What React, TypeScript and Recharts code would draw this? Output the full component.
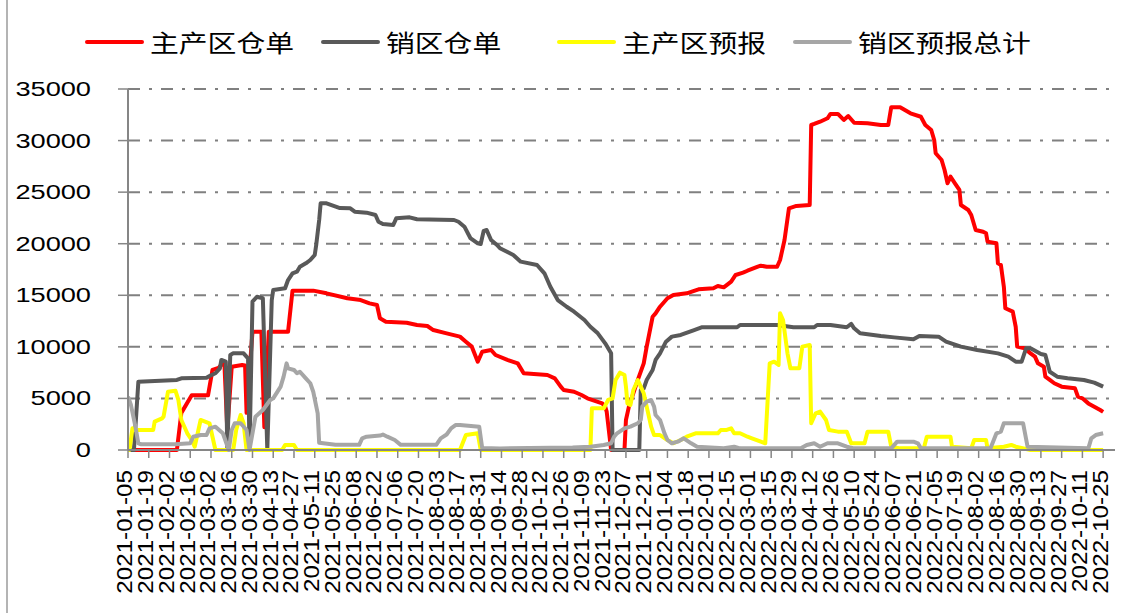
import { LineChart, Line, XAxis, YAxis, CartesianGrid } from 'recharts'

// 2021-01-05 = day 0
const START_DATE = '2021-01-05'

const xTickLabels = [
  '2021-01-05', '2021-01-19', '2021-02-02', '2021-02-16', '2021-03-02', '2021-03-16', '2021-03-30', '2021-04-13',
  '2021-04-27', '2021-05-11', '2021-05-25', '2021-06-08', '2021-06-22', '2021-07-06', '2021-07-20', '2021-08-03',
  '2021-08-17', '2021-08-31', '2021-09-14', '2021-09-28', '2021-10-12', '2021-10-26', '2021-11-09', '2021-11-23',
  '2021-12-07', '2021-12-21', '2022-01-04', '2022-01-18', '2022-02-01', '2022-02-15', '2022-03-01', '2022-03-15',
  '2022-03-29', '2022-04-12', '2022-04-26', '2022-05-10', '2022-05-24', '2022-06-07', '2022-06-21', '2022-07-05',
  '2022-07-19', '2022-08-02', '2022-08-16', '2022-08-30', '2022-09-13', '2022-09-27', '2022-10-11', '2022-10-25',
]
const yTicks = [0, 5000, 10000, 15000, 20000, 25000, 30000, 35000]

// [days since START_DATE, value]
const mainWarehouse: [number, number][] = [
  [0, 0], [33, 0], [36, 3600], [43, 5300], [54, 5300], [57, 7760], [61, 7950], [64, 8430], [65, 8560], [67, 1940],
  [70, 8080], [77, 8240], [79, 8200], [80, 3600], [84, 11470], [90, 11470], [92, 2200], [95, 11470], [108, 11470],
  [111, 15450], [125, 15450], [134, 15190], [148, 14710], [157, 14540], [163, 14220], [168, 14060], [170, 12770],
  [174, 12440], [188, 12340], [195, 12120], [202, 12020], [206, 11630], [215, 11310], [224, 10990], [228, 10500],
  [232, 10020], [236, 8560], [239, 9530], [245, 9700], [248, 9210], [256, 8730], [263, 8400], [267, 7440],
  [283, 7270], [288, 6950], [292, 6140], [294, 5820], [301, 5650], [306, 5330], [310, 5010], [320, 4520],
  [322, 4200], [323, 3720], [326, 0], [335, 0], [336, 2910], [338, 4200], [344, 6790], [348, 8400], [350, 10020],
  [354, 12920], [356, 13250], [359, 13890], [364, 14710], [368, 15030], [377, 15190], [385, 15580], [395, 15680],
  [398, 15900], [402, 15770], [407, 16320], [410, 16970], [415, 17190], [418, 17380], [425, 17770], [427, 17870],
  [431, 17770], [438, 17770], [440, 18420], [443, 20360], [446, 23430], [451, 23660], [460, 23750], [461, 31510],
  [463, 31610], [467, 31830], [472, 32160], [474, 32580], [479, 32580], [483, 32000], [486, 32380], [490, 31730],
  [499, 31670], [508, 31510], [513, 31510], [515, 33230], [521, 33230], [528, 32640], [535, 32310], [538, 31510],
  [542, 31020], [544, 30050], [545, 28770], [549, 28120], [551, 27150], [553, 25860], [555, 26500], [558, 25860],
  [561, 25210], [562, 23750], [567, 23270], [569, 22780], [572, 21330], [577, 21160], [579, 21010], [580, 20200],
  [586, 20040], [587, 18100], [589, 17940], [591, 15830], [592, 13740], [597, 13410], [599, 11950], [600, 10020],
  [605, 9860], [609, 9370], [612, 9050], [614, 8400], [618, 8080], [619, 7110], [622, 6790], [625, 6470],
  [630, 6140], [639, 5980], [641, 5170], [644, 5010], [648, 4520], [652, 4200], [656, 3880], [658, 3700],
]

const salesWarehouse: [number, number][] = [
  [0, 0], [4, 0], [7, 6620], [33, 6790], [36, 6950], [53, 7010], [55, 7170], [59, 7440], [62, 7920], [63, 8730],
  [66, 8560], [67, 0], [69, 9210], [71, 9370], [78, 9370], [81, 8890], [82, 0], [84, 14380], [87, 14860],
  [91, 14710], [94, 0], [97, 14540], [98, 15510], [106, 15680], [108, 16480], [111, 17130], [114, 17290],
  [116, 17770], [120, 18100], [123, 18420], [126, 18910], [127, 19880], [129, 22300], [130, 23920], [134, 23920],
  [143, 23460], [150, 23430], [153, 23110], [161, 23010], [167, 22780], [169, 22130], [172, 21910], [179, 21810],
  [181, 22460], [190, 22560], [195, 22370], [220, 22300], [223, 22130], [227, 21650], [231, 20550], [236, 20040],
  [238, 19970], [240, 21250], [242, 21330], [245, 20360], [249, 19880], [251, 19560], [260, 18910], [265, 18260],
  [276, 17940], [281, 17130], [283, 16480], [285, 15830], [290, 14540], [296, 13890], [301, 13410], [308, 12600],
  [312, 11950], [317, 11310], [322, 10340], [326, 9370], [327, 0], [345, 0], [346, 5820], [348, 5980], [350, 6790],
  [354, 7760], [356, 8730], [359, 9370], [363, 10500], [367, 10990], [373, 11150], [382, 11630], [387, 11900],
  [411, 11900], [413, 12120], [438, 12120], [449, 11900], [463, 11900], [465, 12120], [474, 12120], [485, 11900],
  [488, 12220], [490, 11800], [494, 11310], [508, 11050], [517, 10920], [530, 10730], [534, 11050], [547, 10990],
  [552, 10500], [562, 10020], [573, 9700], [587, 9370], [594, 9050], [599, 8560], [603, 8560], [606, 9860],
  [609, 9860], [616, 9310], [619, 9210], [622, 7590], [627, 7110], [634, 6950], [645, 6790], [652, 6530], [658, 6140],
]

const mainForecast: [number, number][] = [
  [0, 0], [1, 0], [3, 2100], [5, 1940], [17, 1940], [18, 2750], [23, 3070], [24, 3230], [27, 5650], [32, 5750],
  [34, 4850], [36, 2910], [40, 1620], [43, 970], [45, 320], [46, 970], [49, 2910], [52, 2750], [55, 2590],
  [57, 1290], [59, 0], [71, 0], [73, 1940], [76, 3390], [78, 2590], [80, 0], [104, 0], [106, 485], [112, 485],
  [114, 0], [224, 0], [228, 1450], [236, 1620], [238, 0], [312, 0], [313, 4040], [321, 4040], [324, 4850],
  [327, 5010], [329, 6790], [332, 7500], [335, 7270], [336, 6140], [337, 4520], [339, 4360], [341, 5820],
  [344, 6790], [346, 6140], [348, 5500], [350, 4200], [353, 2260], [355, 1450], [359, 1450], [364, 970],
  [368, 650], [373, 970], [377, 1290], [383, 1620], [398, 1620], [400, 1940], [404, 1940], [407, 2100],
  [409, 1620], [413, 1620], [418, 1290], [421, 1130], [427, 810], [430, 650], [433, 8400], [436, 8560],
  [439, 8240], [440, 13250], [442, 12600], [445, 9370], [447, 7920], [453, 7920], [455, 10020], [460, 10180],
  [461, 2590], [464, 3560], [467, 3720], [471, 2910], [473, 1940], [479, 1780], [485, 1780], [488, 650],
  [497, 650], [499, 1780], [513, 1780], [515, 320], [521, 160], [537, 160], [539, 1290], [555, 1290], [556, 320],
  [569, 160], [571, 970], [579, 970], [580, 160], [591, 320], [596, 490], [599, 320], [609, 0], [658, 0],
]

const salesForecastTotal: [number, number][] = [
  [0, 5170], [2, 4360], [5, 2260], [7, 650], [9, 550], [32, 550], [42, 650], [44, 1290], [49, 1450], [53, 1450],
  [55, 2100], [59, 2260], [64, 1620], [68, 0], [70, 1940], [72, 2590], [76, 2590], [80, 1940], [82, 0], [86, 3230],
  [91, 3880], [96, 4850], [98, 5010], [103, 6140], [105, 7110], [107, 8400], [108, 7920], [112, 7760], [114, 7440],
  [116, 7590], [120, 6950], [123, 6470], [125, 5650], [128, 3560], [129, 700], [140, 500], [156, 500], [158, 1130],
  [161, 1290], [170, 1400], [172, 1500], [175, 1290], [180, 970], [184, 500], [208, 500], [211, 1130], [215, 1500],
  [218, 2100], [221, 2420], [224, 2420], [237, 2260], [239, 200], [251, 150], [300, 250], [312, 320], [321, 490],
  [326, 650], [328, 1290], [330, 1620], [335, 2100], [339, 2260], [344, 2590], [346, 2910], [347, 4200],
  [350, 4690], [353, 4850], [355, 4200], [356, 3390], [359, 2910], [362, 1620], [364, 970], [367, 650], [371, 810],
  [375, 1130], [380, 650], [384, 320], [402, 160], [409, 320], [413, 160], [454, 160], [458, 490], [463, 650],
  [467, 320], [472, 650], [479, 650], [485, 320], [490, 160], [515, 160], [519, 810], [530, 810], [533, 650],
  [535, 160], [582, 160], [586, 1620], [589, 1780], [591, 2590], [604, 2590], [607, 320], [648, 160], [650, 1130],
  [653, 1450], [658, 1620],
]

const series = [
  { name: '主产区仓单', color: '#FF0000', points: mainWarehouse },
  { name: '销区仓单', color: '#595959', points: salesWarehouse },
  { name: '主产区预报', color: '#FFFF00', points: mainForecast },
  { name: '销区预报总计', color: '#A6A6A6', points: salesForecastTotal },
]

const dayOf = (d: string) => Math.round((Date.parse(d) - Date.parse(START_DATE)) / 86400000)
const xTicks = xTickLabels.map(dayOf)
const labelByDay = new Map(xTickLabels.map((d) => [dayOf(d), d]))

const YTick = ({ x, y, payload }: any) => (
  <text
    transform={`translate(${x},${y}) scale(1.36,1)`}
    textAnchor="end"
    dy="0.35em"
    fontSize={20}
    fontFamily="'Liberation Sans', Arial, sans-serif"
    fill="#000"
  >
    {payload.value}
  </text>
)

const XTick = ({ x, y, payload }: any) => (
  <text
    transform={`translate(${x},${y}) rotate(-90) scale(1.1,1)`}
    textAnchor="end"
    dy="0.2em"
    fontSize={22}
    fontFamily="'Liberation Sans', Arial, sans-serif"
    fill="#000"
  >
    {labelByDay.get(payload.value)}
  </text>
)

function ChartLegend() {
  return (
    <div style={{ position: 'absolute', top: 27, left: 85, display: 'flex', alignItems: 'center', height: 30 }}>
      {series.map((s) => (
        <div key={s.name} style={{ width: 236, display: 'flex', alignItems: 'center' }}>
          <div style={{ width: 59, height: 4, background: s.color, borderRadius: 2 }} />
          <span
            style={{
              marginLeft: 6,
              display: 'inline-block',
              transform: 'scaleX(1.2)',
              transformOrigin: 'left center',
              fontSize: 24,
              lineHeight: '30px',
              whiteSpace: 'nowrap',
              color: '#000',
              fontFamily: "'Noto Sans CJK SC', sans-serif",
            }}
          >
            {s.name}
          </span>
        </div>
      ))}
    </div>
  )
}

export default function App() {
  return (
    <div style={{ position: 'relative', width: 1123, height: 613, background: '#fff', overflow: 'hidden' }}>
      <style>{'body{margin:0}'}</style>
      <div style={{ position: 'absolute', left: 6, top: 0, width: 2, height: 613, background: '#b4b4b4' }} />
      <ChartLegend />
      <LineChart width={1123} height={613} margin={{ top: 89, right: 8, bottom: 13, left: 0 }}>
        <CartesianGrid horizontal vertical={false} stroke="#808080" strokeWidth={2} strokeDasharray="12 9 3 9" />
        <XAxis
          dataKey="day"
          type="number"
          domain={[0, 666]}
          ticks={xTicks}
          interval={0}
          allowDataOverflow
          height={150}
          axisLine={{ stroke: '#868686', strokeWidth: 2 }}
          tickLine={{ stroke: '#868686', strokeWidth: 1.5 }}
          tickSize={8}
          tickMargin={12}
          tick={XTick}
        />
        <YAxis
          type="number"
          domain={[0, 35000]}
          ticks={yTicks}
          interval={0}
          width={128}
          axisLine={{ stroke: '#868686', strokeWidth: 2 }}
          tickLine={{ stroke: '#868686', strokeWidth: 1.5 }}
          tickSize={10}
          tickMargin={27}
          tick={YTick}
        />
        {series.map((s) => (
          <Line
            key={s.name}
            name={s.name}
            data={s.points.map(([day, v]) => ({ day, v }))}
            dataKey="v"
            type="linear"
            stroke={s.color}
            strokeWidth={4}
            strokeLinejoin="round"
            dot={false}
            activeDot={false}
            isAnimationActive={false}
          />
        ))}
      </LineChart>
    </div>
  )
}
